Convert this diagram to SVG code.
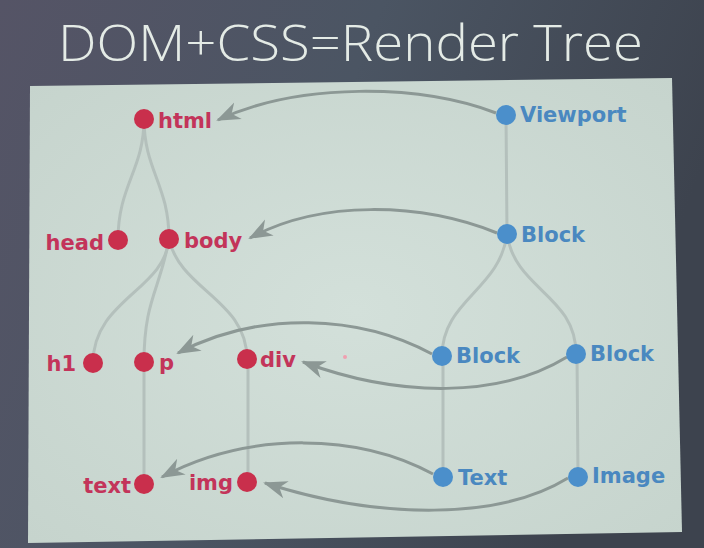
<svg xmlns="http://www.w3.org/2000/svg" width="704" height="548" viewBox="0 0 704 548">
<defs>
<linearGradient id="bg" x1="0" y1="0" x2="1" y2="0.3">
<stop offset="0" stop-color="#555466"/>
<stop offset="0.5" stop-color="#4b5563"/>
<stop offset="1" stop-color="#3d434e"/>
</linearGradient>
<radialGradient id="panelG" cx="0.5" cy="0.5" r="0.7">
<stop offset="0" stop-color="#d3e0da"/>
<stop offset="1" stop-color="#c6d4cd"/>
</radialGradient>
<marker id="ah" markerUnits="userSpaceOnUse" markerWidth="26" markerHeight="20" refX="22" refY="10" orient="auto" viewBox="0 0 26 20">
<path d="M24,10 L0,1 L7,10 L0,19 Z" fill="#8c9895"/>
</marker>
<style>
.tree{fill:none;stroke:#b4c0bc;stroke-width:3;stroke-linecap:round}
.map{fill:none;stroke:#8c9895;stroke-width:3}
.dom circle{fill:#c92f4c}
.rt circle{fill:#4b8fcb}
.dom text{fill:#c3345a;font-family:"DejaVu Sans",Verdana,sans-serif;font-weight:bold;font-size:21px}
.rt text{fill:#4a88c0;font-family:"DejaVu Sans",Verdana,sans-serif;font-weight:bold;font-size:21px}
.title{fill:#e4ebe6;font-family:"Open Sans","DejaVu Sans",sans-serif;font-weight:300;font-size:50px}
</style>
</defs>
<rect width="704" height="548" fill="url(#bg)"/>
<text class="title" x="58" y="61" textLength="585" lengthAdjust="spacingAndGlyphs">DOM+CSS=Render Tree</text>
<polygon points="30,86 672,78 682,532 28,543" fill="url(#panelG)"/>
<circle cx="345" cy="357" r="2" fill="#f0a0b0"/>
<g id="connectors">
<path class="tree" d="M144,119 C144,170 118,185 118,240"/>
<path class="tree" d="M144,119 C144,170 169,185 169,239"/>
<path class="tree" d="M169,239 C165,290 93,300 93,363"/>
<path class="tree" d="M169,239 C160,290 144,300 144,362"/>
<path class="tree" d="M169,239 C180,290 247,300 247,359"/>
<path class="tree" d="M144,362 L144,484"/>
<path class="tree" d="M248,359 L248,482"/>
<path class="tree" d="M506,115 L507,234"/>
<path class="tree" d="M507,234 C500,290 442,300 442,356"/>
<path class="tree" d="M507,234 C515,290 576,295 576,354"/>
<path class="tree" d="M443,356 L443,477"/>
<path class="tree" d="M577,354 L578,477"/>
<path class="map" d="M496,113 C420,84 300,82 218,120" marker-end="url(#ah)"/>
<path class="map" d="M497,233 C420,202 320,200 250,238" marker-end="url(#ah)"/>
<path class="map" d="M432,354 C360,315 260,310 178,353" marker-end="url(#ah)"/>
<path class="map" d="M567,357 C500,398 400,398 303,362" marker-end="url(#ah)"/>
<path class="map" d="M433,474 C360,434 250,430 162,477" marker-end="url(#ah)"/>
<path class="map" d="M568,478 C500,520 380,520 265,483" marker-end="url(#ah)"/>
</g>
<g id="html" class="dom"><circle cx="144" cy="119" r="10"/><text x="158" y="128">html</text></g>
<g id="head" class="dom"><circle cx="118" cy="240" r="10"/><text x="104" y="250" text-anchor="end">head</text></g>
<g id="body" class="dom"><circle cx="169" cy="239" r="10"/><text x="184" y="248">body</text></g>
<g id="h1" class="dom"><circle cx="93" cy="363" r="10"/><text x="76" y="371" text-anchor="end">h1</text></g>
<g id="p" class="dom"><circle cx="144" cy="362" r="10"/><text x="159" y="370">p</text></g>
<g id="div" class="dom"><circle cx="247" cy="359" r="10"/><text x="260" y="367">div</text></g>
<g id="text" class="dom"><circle cx="144" cy="484" r="10"/><text x="131" y="493" text-anchor="end">text</text></g>
<g id="img" class="dom"><circle cx="247" cy="482" r="10"/><text x="233" y="490" text-anchor="end">img</text></g>
<g id="viewport" class="rt"><circle cx="506" cy="115" r="10"/><text x="520" y="122">Viewport</text></g>
<g id="block1" class="rt"><circle cx="507" cy="234" r="10"/><text x="521" y="242">Block</text></g>
<g id="block2" class="rt"><circle cx="442" cy="356" r="10"/><text x="456" y="363">Block</text></g>
<g id="block3" class="rt"><circle cx="576" cy="354" r="10"/><text x="590" y="361">Block</text></g>
<g id="textbox" class="rt"><circle cx="443" cy="477" r="10"/><text x="458" y="485">Text</text></g>
<g id="image" class="rt"><circle cx="578" cy="477" r="10"/><text x="592" y="483">Image</text></g>
</svg>
